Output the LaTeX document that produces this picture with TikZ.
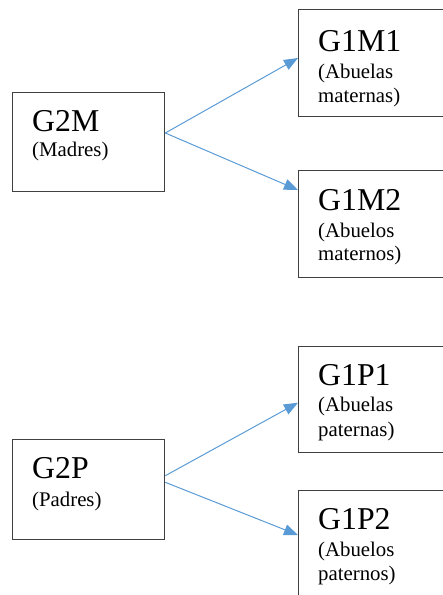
\documentclass[tikz,border=0pt]{standalone}
\usepackage{fontspec}
\setmainfont{Liberation Serif}
\usetikzlibrary{arrows.meta,calc}
\definecolor{boxline}{HTML}{404040}
\definecolor{arrowblue}{HTML}{5B9BD5}
\tikzset{
  box/.style={draw=boxline, line width=1.3pt, rectangle, inner sep=0pt, anchor=north west},
  big/.style={anchor=base west, inner sep=0pt, font=\fontsize{31.8}{36}\selectfont},
  small/.style={anchor=base west, inner sep=0pt, font=\fontsize{20.8}{24}\selectfont},
  link/.style={draw=arrowblue, line width=1pt, -{Triangle[length=14pt,width=11pt]}, shorten >=0pt}
}
\begin{document}
\begin{tikzpicture}[x=1pt,y=-1pt]
\useasboundingbox (0,0) rectangle (443,595);
\clip (0,0) rectangle (443,595);
% boxes
\node[box, minimum width=152pt, minimum height=99pt] (g2m) at (12,92) {};
\node[box, minimum width=170pt, minimum height=107pt] (g1m1) at (298,9) {};
\node[box, minimum width=170pt, minimum height=107pt] (g1m2) at (298,170) {};
\node[box, minimum width=152pt, minimum height=100pt] (g2p) at (12,439) {};
\node[box, minimum width=170pt, minimum height=106pt] (g1p1) at (298,346) {};
\node[box, minimum width=170pt, minimum height=120pt] (g1p2) at (298,490) {};
% texts
\node[big] (t2m) at (32,131.7) {G2M};
\node[small] (t2ms) at (32,156) {(Madres)};
\node[big] (t1m1) at (318,51) {G1M1};
\node[small] (t1m1a) at (318,78) {(Abuelas};
\node[small] (t1m1b) at (318,102) {maternas)};
\node[big] (t1m2) at (318,210) {G1M2};
\node[small] (t1m2a) at (318,237) {(Abuelos};
\node[small] (t1m2b) at (318,260) {maternos)};
\node[big] (t2p) at (32,478.3) {G2P};
\node[small] (t2ps) at (32,506) {(Padres)};
\node[big] (t1p1) at (318,385) {G1P1};
\node[small] (t1p1a) at (318,411.7) {(Abuelas};
\node[small] (t1p1b) at (318,436) {paternas)};
\node[big] (t1p2) at (318,529) {G1P2};
\node[small] (t1p2a) at (318,556.7) {(Abuelos};
\node[small] (t1p2b) at (318,580) {paternos)};
% connectors
\draw[link] ($(g2m.north east)+(0,41)$) -- ($(g1m1.north west)+(0,49)$);
\draw[link] ($(g2m.north east)+(0,41)$) -- ($(g1m2.north west)+(0,20)$);
\draw[link] ($(g2p.north east)+(0,36.7)$) -- ($(g1p1.north west)+(0,56.7)$);
\draw[link] ($(g2p.north east)+(0,43.3)$) -- ($(g1p2.north west)+(0,45)$);
\end{tikzpicture}
\end{document}
